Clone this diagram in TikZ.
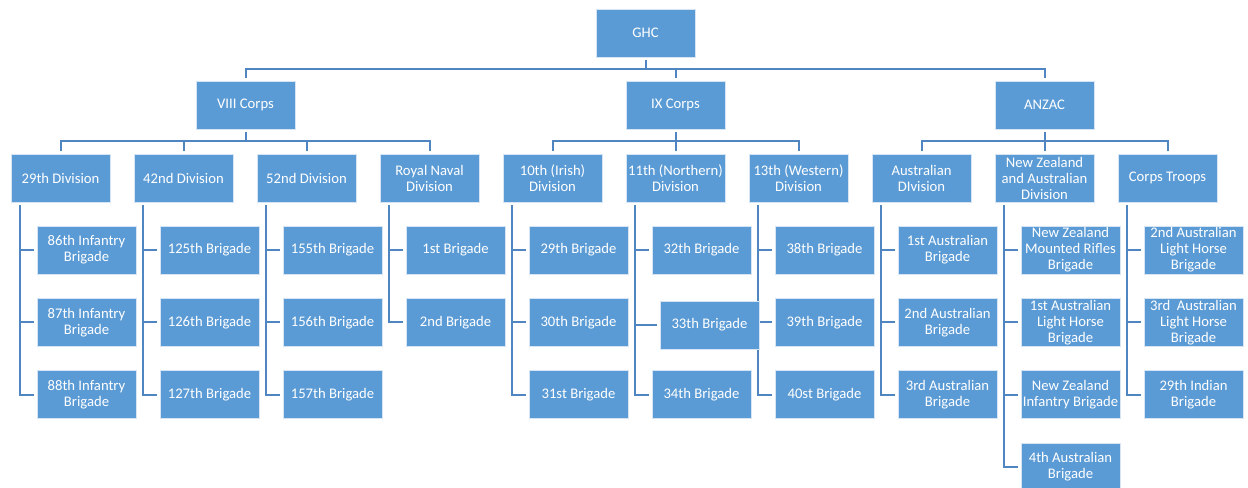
\documentclass[tikz,border=0pt]{standalone}
\usepackage{fontspec}
\setmainfont{Carlito}
\usetikzlibrary{calc}
\definecolor{boxfill}{HTML}{5B9BD5}
\definecolor{boxedge}{HTML}{D6E4F3}
\definecolor{linecol}{HTML}{4F86C2}
\tikzset{
  unit/.style={rectangle, fill=boxfill, draw=boxedge, line width=0.6pt,
    minimum width=74.25pt, minimum height=36pt, inner sep=0pt,
    align=center, text=white, font=\fontsize{11}{12}\selectfont},
  conn/.style={draw=linecol, line width=1.5pt, shorten <=2.25pt, shorten >=2.25pt}
}
\newcommand{\brig}[4]{\node[unit] (#1) at (#2,#3) {#4};}
\begin{document}
\begin{tikzpicture}[x=0.75pt,y=-0.75pt]
\useasboundingbox (0,0) rectangle (1248,487);
% top
\node[unit] (ghc) at (645.5,33) {GHC};
\node[unit] (c1) at (245.5,105) {VIII Corps};
\node[unit] (c2) at (675.5,105) {IX Corps};
\node[unit] (c3) at (1044.5,105) {ANZAC};
% divisions
\node[unit] (d1) at (60.5,178) {29th Division};
\node[unit] (d2) at (183.5,178) {42nd Division};
\node[unit] (d3) at (306.5,178) {52nd Division};
\node[unit] (d4) at (429.5,178) {Royal Naval\\Division};
\node[unit] (d5) at (552.5,178) {10th (Irish)\\Division};
\node[unit] (d6) at (675.5,178) {11th (Northern)\\Division};
\node[unit] (d7) at (798.5,178) {13th (Western)\\Division};
\node[unit] (d8) at (921.5,178) {Australian\\DIvision};
\node[unit] (d9) at (1044.5,178) {New Zealand\\and Australian\\Division};
\node[unit] (d10) at (1167.5,178) {Corps Troops};
% connectors top levels
\foreach \c in {c1,c2,c3} \draw[conn] (ghc.south) -- ++(0,12) -| (\c.north);
\foreach \d in {d1,d2,d3,d4} \draw[conn] (c1.south) -- ++(0,12) -| (\d.north);
\foreach \d in {d5,d6,d7} \draw[conn] (c2.south) -- ++(0,12) -| (\d.north);
\foreach \d in {d8,d9,d10} \draw[conn] (c3.south) -- ++(0,12) -| (\d.north);
% brigade anchor coordinates (left edges)
\foreach \d/\x/\n in {d1/86.5/3,d2/209.5/3,d3/332.5/3,d4/455.5/2,d5/578.5/3,d6/701.5/3,d7/824.5/3,d8/947.5/3,d9/1070.5/4,d10/1193.5/3}{
  \foreach \r in {1,...,\n}{
    \coordinate (\d b\r) at ({\x-49.5},{250+72.3*(\r-1)});
  }
}
\coordinate (d6b2) at (660,325);
\foreach \d/\n in {d1/3,d2/3,d3/3,d4/2,d5/3,d6/3,d7/3,d8/3,d9/4,d10/3}{
  \foreach \r in {1,...,\n}{
    \draw[conn] ($(\d.south west)+(9,0)$) |- (\d b\r);
  }
}
% brigades
\brig{b11}{86.5}{250}{86th Infantry\\Brigade}
\brig{b12}{86.5}{322.3}{87th Infantry\\Brigade}
\brig{b13}{86.5}{394.6}{88th Infantry\\Brigade}
\brig{b21}{209.5}{250}{125th Brigade}
\brig{b22}{209.5}{322.3}{126th Brigade}
\brig{b23}{209.5}{394.6}{127th Brigade}
\brig{b31}{332.5}{250}{155th Brigade}
\brig{b32}{332.5}{322.3}{156th Brigade}
\brig{b33}{332.5}{394.6}{157th Brigade}
\brig{b41}{455.5}{250}{1st Brigade}
\brig{b42}{455.5}{322.3}{2nd Brigade}
\brig{b51}{578.5}{250}{29th Brigade}
\brig{b52}{578.5}{322.3}{30th Brigade}
\brig{b53}{578.5}{394.6}{31st Brigade}
\brig{b61}{701.5}{250}{32th Brigade}
\brig{b63}{701.5}{394.6}{34th Brigade}
\brig{b71}{824.5}{250}{38th Brigade}
\brig{b72}{824.5}{322.3}{39th Brigade}
\brig{b73}{824.5}{394.6}{40st Brigade}
\brig{b62}{709.5}{325}{33th Brigade}
\brig{b81}{947.5}{250}{1st Australian\\Brigade}
\brig{b82}{947.5}{322.3}{2nd Australian\\Brigade}
\brig{b83}{947.5}{394.6}{3rd Australian\\Brigade}
\brig{b91}{1070.5}{250}{New Zealand\\Mounted Rifles\\Brigade}
\brig{b92}{1070.5}{322.3}{1st Australian\\Light Horse\\Brigade}
\brig{b93}{1070.5}{394.6}{New Zealand\\Infantry Brigade}
\brig{b94}{1070.5}{467}{4th Australian\\Brigade}
\brig{b101}{1193.5}{250}{2nd Australian\\Light Horse\\Brigade}
\brig{b102}{1193.5}{322.3}{3rd\ \ Australian\\Light Horse\\Brigade}
\brig{b103}{1193.5}{394.6}{29th Indian\\Brigade}
\end{tikzpicture}
\end{document}
